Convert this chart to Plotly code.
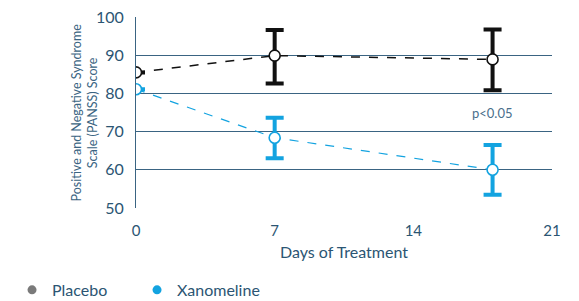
import plotly.graph_objects as go

days = [0, 7, 18]
placebo = [85.5, 89.9, 88.9]
placebo_hi = [0, 6.7, 7.8]
placebo_lo = [0, 7.3, 8.1]
xano = [81.1, 68.4, 60.0]
xano_hi = [0, 5.2, 6.5]
xano_lo = [0, 5.4, 6.5]

BLACK = "#111111"
BLUE = "#13a3e0"
AX = "#2b5573"

fig = go.Figure()
fig.add_trace(go.Scatter(
    x=days, y=placebo, mode="lines+markers", showlegend=False,
    line=dict(color=BLACK, width=1.5, dash="dash"),
    marker=dict(size=11, color="white", line=dict(color=BLACK, width=1.6)),
    error_y=dict(type="data", symmetric=False, array=placebo_hi, arrayminus=placebo_lo,
                 color=BLACK, thickness=4, width=9)))
fig.add_trace(go.Scatter(
    x=days, y=xano, mode="lines+markers", showlegend=False,
    line=dict(color=BLUE, width=1.2, dash="dash"),
    marker=dict(size=11, color="white", line=dict(color=BLUE, width=1.6)),
    error_y=dict(type="data", symmetric=False, array=xano_hi, arrayminus=xano_lo,
                 color=BLUE, thickness=4, width=9)))
# legend entries
fig.add_trace(go.Scatter(x=[None], y=[None], mode="markers", name="Placebo",
                         marker=dict(size=9, color="#7a7a7a")))
fig.add_trace(go.Scatter(x=[None], y=[None], mode="markers", name="Xanomeline",
                         marker=dict(size=9, color=BLUE)))

fig.add_annotation(x=18, y=75, text="p<0.05", showarrow=False,
                   font=dict(size=13, color="#4a6f8c"))
fig.add_annotation(xref="paper", yref="paper", x=-0.125, y=0.5, textangle=-90,
                   xanchor="center", yanchor="middle",
                   text="Positive and Negative Syndrome<br>Scale (PANSS) Score",
                   showarrow=False, font=dict(size=12.5, color="#3a6482"))

fig.update_layout(
    width=571, height=293,
    margin=dict(l=128, r=27, t=9, b=93, autoexpand=False),
    paper_bgcolor="white", plot_bgcolor="white",
    font=dict(family="Lato, sans-serif", color=AX),
    xaxis=dict(range=[0, 21], tickvals=[0, 7, 14, 21], showgrid=False, zeroline=False,
               showline=False, tickfont=dict(size=15, color=AX), automargin=False,
               ticklabelstandoff=12, ticklabeloverflow="allow",
               title=dict(text="Days of Treatment", font=dict(size=16, color=AX), standoff=8),
               ticks="", ticklen=0),
    yaxis=dict(range=[50, 100], tickvals=[50, 60, 70, 80, 90, 100], showgrid=True,
               gridcolor="#3a6482", gridwidth=1, zeroline=False, automargin=False,
               showline=True, linecolor="#3a6482", linewidth=1, ticklabeloverflow="allow",
               tickfont=dict(size=16, color=AX), ticks="", ticklen=0, ticklabelstandoff=8),
    legend=dict(orientation="h", x=-0.298, y=-0.429, xanchor="left", yanchor="middle",
                font=dict(size=16, color=AX), itemwidth=30, entrywidth=80),
)

fig.write_html("out.html")
